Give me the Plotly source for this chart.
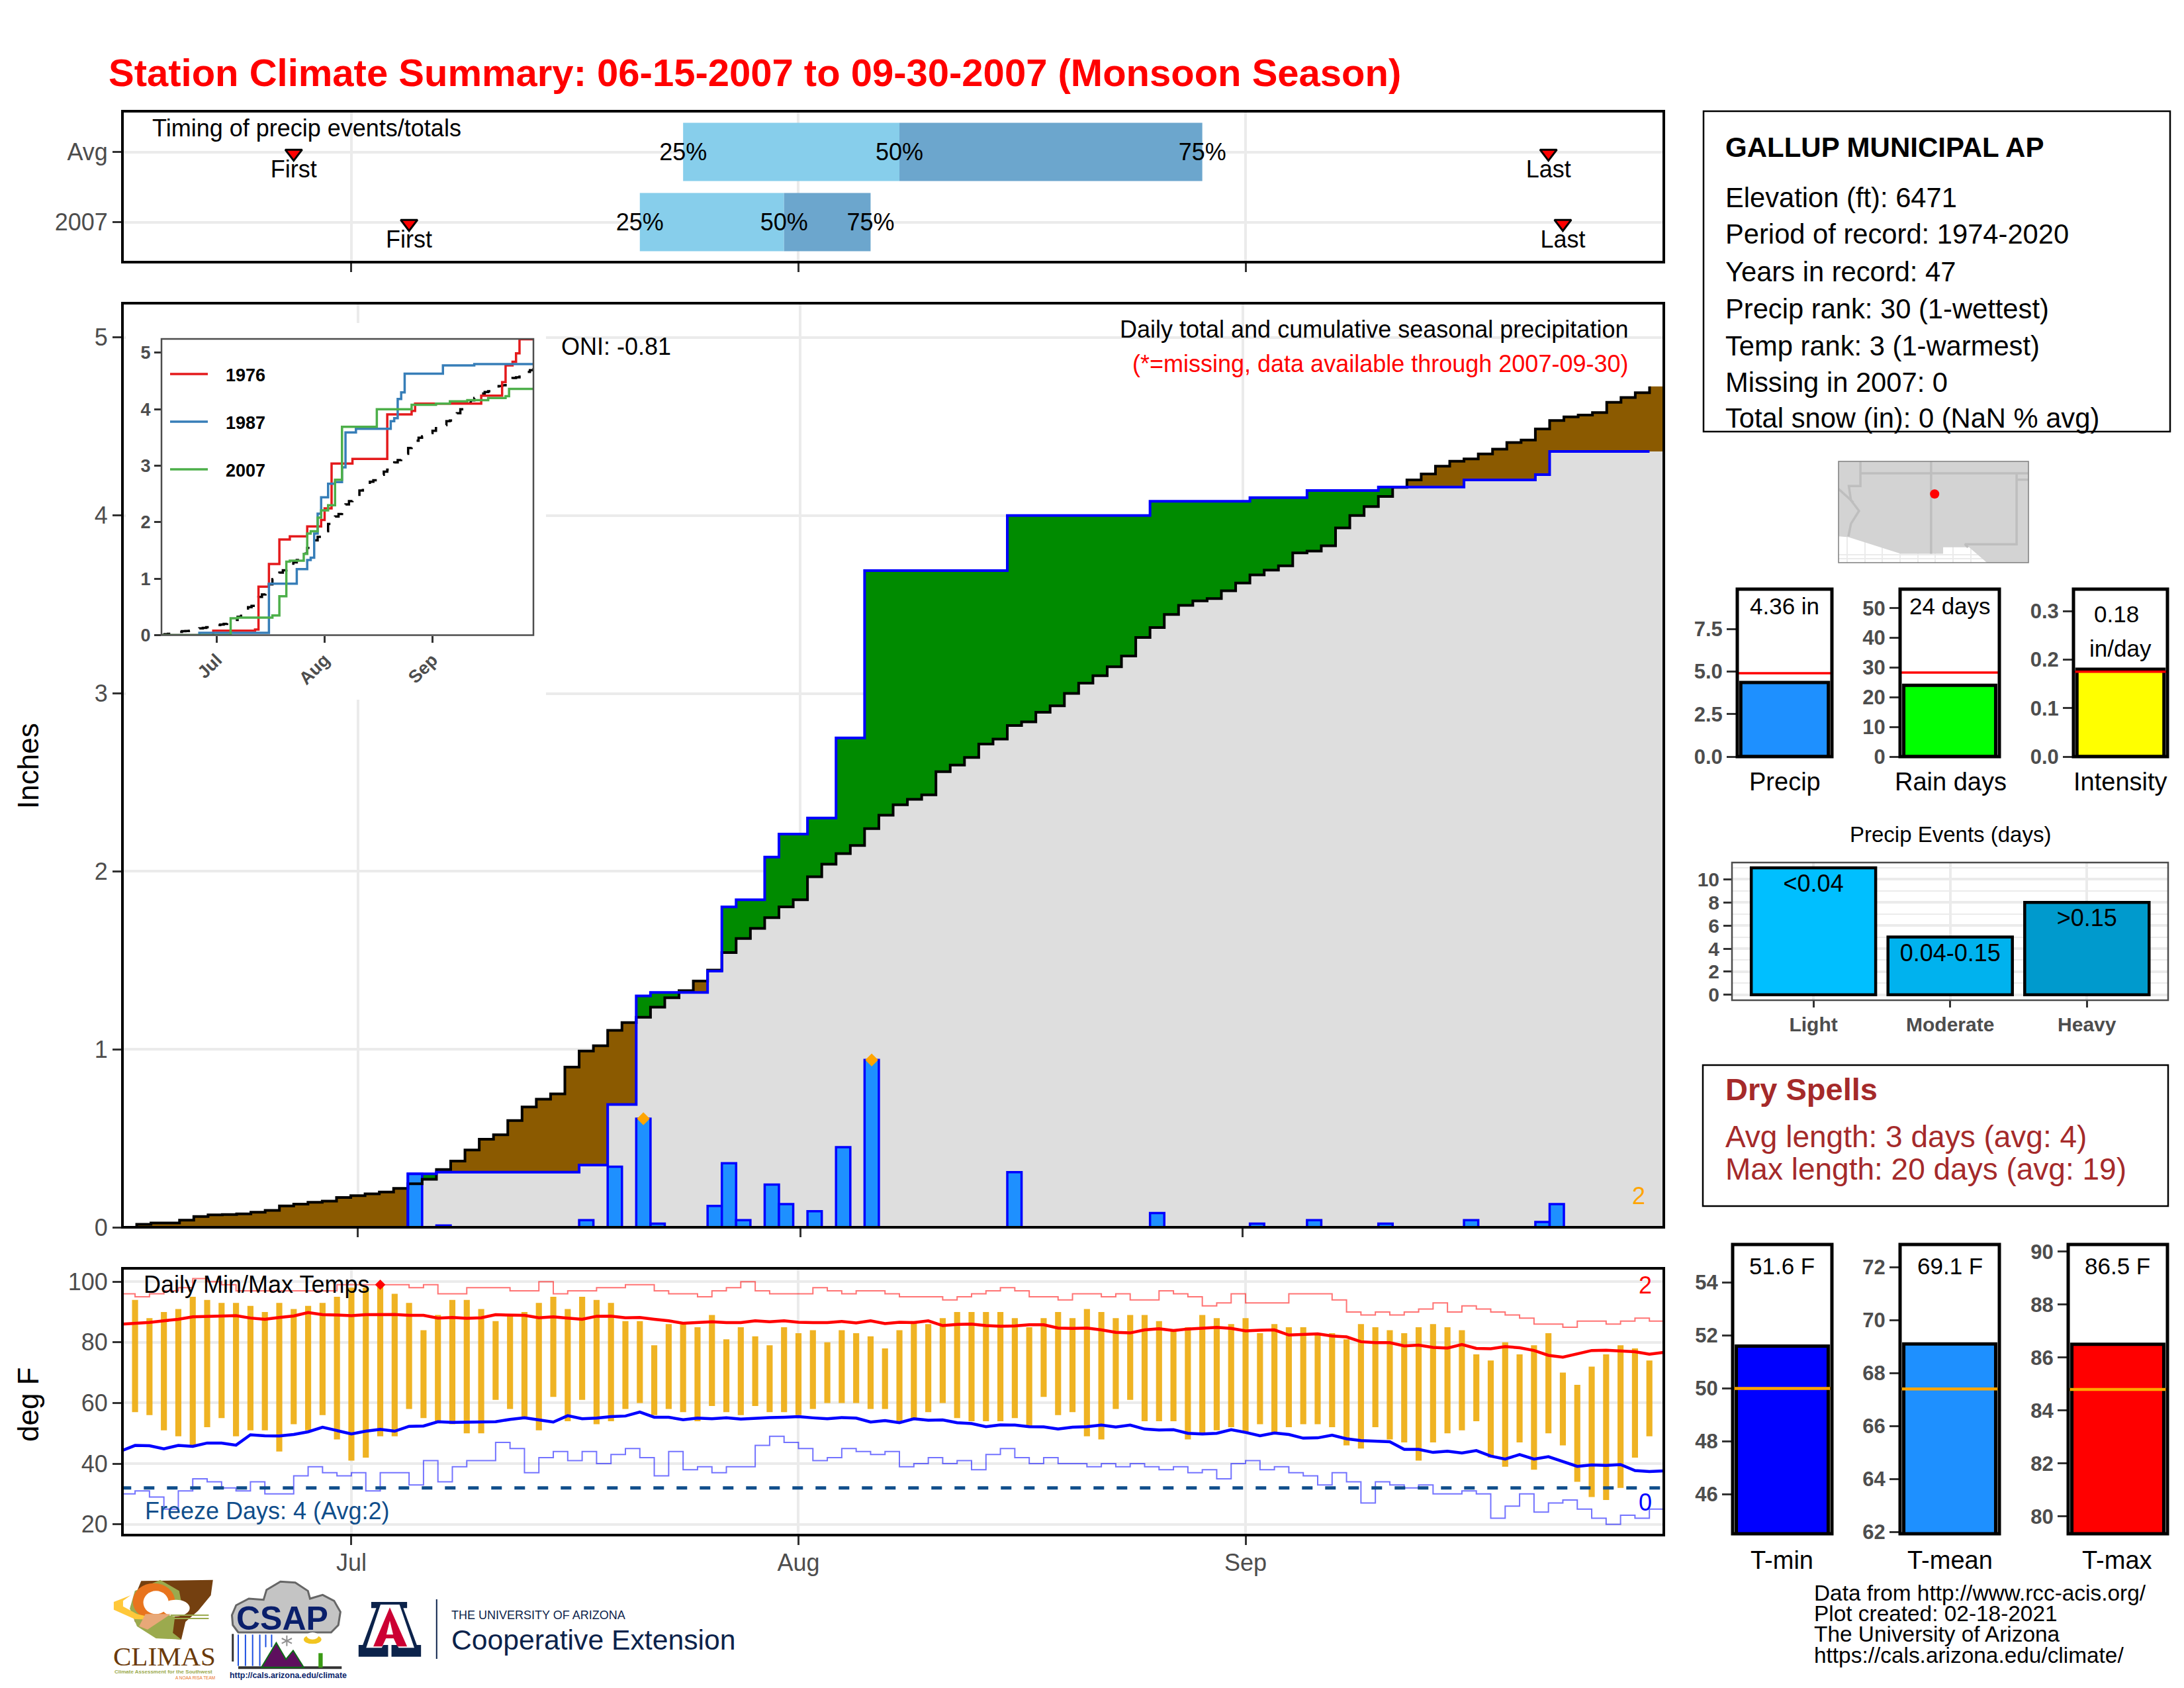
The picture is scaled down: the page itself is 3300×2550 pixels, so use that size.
import numpy as np
import pandas as pd
import plotly.graph_objects as go

W, H = 3300, 2550
FONT = "Liberation Sans"
GRAY = "#4D4D4D"
GRID = "#EBEBEB"

# ---------- data ----------
days = pd.date_range("2007-06-15", periods=108)
month_ticks = ["2007-07-01", "2007-08-01", "2007-09-01"]
month_labels = ["Jul", "Aug", "Sep"]

rain_day_index = [20, 22, 32, 34, 36, 37, 41, 42, 43, 45, 46, 48, 50, 52, 62, 72, 79, 83, 88, 94, 99, 100]
rain_inches = [.30, .01, .04, .34, .61, .02, .12, .36, .04, .24, .13, .09, .45, .94, .31, .08, .02, .04, .02, .04, .03, .13]
record_rain_index = [36, 52]

avg_cum = [0.0,.017,.024,.024,.04,.06,.07,.072,.075,.085,.095,.12,.13,.14,.147,.167,.178,.188,.198,.219,.245,.27,.325,.372,.434,.495,.52,.60,.676,.72,.75,.90,.99,1.02,1.107,1.15,1.18,1.237,1.29,1.33,1.384,1.445,1.544,1.623,1.68,1.74,1.80,1.84,1.97,2.04,2.10,2.145,2.24,2.316,2.374,2.405,2.43,2.56,2.597,2.64,2.716,2.743,2.82,2.84,2.894,2.93,3.0,3.058,3.10,3.15,3.21,3.314,3.37,3.444,3.495,3.52,3.533,3.577,3.62,3.666,3.693,3.717,3.79,3.80,3.83,3.93,4.0,4.05,4.107,4.158,4.2,4.233,4.277,4.305,4.318,4.346,4.373,4.41,4.424,4.486,4.534,4.554,4.564,4.578,4.636,4.663,4.69,4.725]

y1976_days = [0, 15, 27, 28, 31, 34, 37, 42, 46, 47, 49, 55, 65, 72, 73, 92, 98, 99, 101, 102, 103, 107]
y1976_vals = [0, .08, .10, .86, 1.26, 1.695, 1.75, 1.925, 2.04, 2.245, 3.04, 3.12, 3.91, 3.97, 4.10, 4.24, 4.48, 4.775, 4.84, 4.99, 5.24, 5.24]
y1987_days = [0, 11, 31, 39, 42, 43, 44, 45, 46, 48, 50, 52, 53, 56, 66, 67, 68, 69, 70, 81, 90, 107]
y1987_vals = [0, .04, .91, 1.17, 1.33, 1.37, 1.80, 2.15, 2.44, 2.68, 2.71, 2.97, 3.59, 3.655, 3.79, 3.84, 4.18, 4.30, 4.63, 4.775, 4.80, 4.80]

t_max = [94,88,90,91,95,94,93,93,92,90,93,91,92,93,95,98,98,99,96,93,84,89,94,94,91,87,89,90,93,95,91,95,94,93,87,87,79,86,86,85,89,81,85,82,79,85,83,84,80,84,83,82,78,84,87,86,88,90,90,90,90,88,85,88,90,88,91,90,88,89,89,87,84,85,89,88,86,88,83,86,85,85,83,83,81,86,85,84,83,85,86,85,84,76,74,80,76,79,83,70,66,72,76,79,78,74]
t_min = [57,56,51,49,46,52,55,49,51,51,44,53,51,56,48,41,42,49,49,58,55,54,53,50,50,61,58,55,51,62,54,61,53,54,58,60,56,58,57,54,59,57,56,59,57,57,56,58,60,60,60,58,58,54,55,57,60,55,54,54,54,55,52,62,56,57,49,48,58,61,54,54,54,48,50,51,52,50,53,50,52,53,53,52,46,45,52,48,47,41,47,50,51,54,42,39,47,38,50,46,34,29,28,32,42,49]
avg_tmax = [86.0,86.25,86.55,87.1,87.6,88.4,88.5,88.65,88.8,88.0,87.6,88.2,88.7,89.8,89.1,89.0,88.8,89.1,89.2,89.2,88.9,88.9,88.0,88.2,87.9,88.1,89.1,88.9,88.9,88.1,88.4,88.0,87.6,88.6,88.65,88.1,88.2,87.6,87.1,86.3,86.5,86.8,86.5,86.5,87.1,86.8,87.1,86.6,86.5,86.5,86.9,86.4,87.1,86.2,
            86.6,86.5,87.1,85.5,85.9,86.0,85.5,85.3,85.4,85.8,85.8,84.7,84.6,84.7,84.1,83.3,83.1,84.1,84.5,83.9,84.4,84.6,84.9,84.6,83.8,84.0,84.1,82.4,82.6,82.8,82.1,81.8,80.2,79.9,79.9,78.8,79.1,78.3,78.1,79.3,78.0,77.9,78.6,78.2,77.3,75.7,75.1,76.1,77.3,77.4,77.2,76.9,76.1,76.7]
avg_tmin = [44.1,46.0,45.9,44.9,46.0,45.7,46.8,46.8,46.1,49.5,49.2,49.1,49.6,50.5,52.0,50.9,49.8,50.7,51.3,50.7,52.3,52.4,53.8,53.6,53.7,53.8,53.8,54.6,55.1,54.4,53.7,55.8,54.8,55.0,55.5,55.7,57.0,55.3,55.3,54.5,55.0,54.8,55.1,54.7,55.0,55.2,55.3,55.5,55.1,54.8,55.2,55.0,53.7,54.2,
            53.5,54.8,54.3,54.4,53.5,53.2,52.2,52.8,52.7,52.2,52.1,51.4,52.0,52.2,52.7,52.1,52.7,51.4,51.1,51.2,50.0,49.8,50.0,51.2,50.3,49.2,50.1,49.6,48.4,48.5,49.4,48.2,47.6,47.3,47.2,44.7,44.7,43.7,44.1,43.5,44.3,42.5,41.5,43.0,41.5,42.3,40.6,39.1,39.6,39.4,39.7,37.7,37.4,37.6]
rec_high = [96,95,96,97,98,101,100,99,97,97,97,97,97,97,97,99,99,99,99,99,98,99,96,96,98,98,98,97,97,100,96,97,97,98,98,99,99,97,96,96,95,97,98,100,97,96,96,96,98,97,96,97,97,96,95,95,95,94,95,96,97,98,97,95,95,94,96,96,95,96,94,94,97,96,95,92,93,96,93,93,93,96,96,96,94,90,89,90,89,90,91,93,90,92,91,90,89,88,86,86,85,87,87,86,87,88,87,87]
rec_low = [30,31,29,25,31,35,34,32,31,34,30,30,36,39,37,36,37,31,37,37,33,41,34,39,41,41,47,45,37,42,44,41,44,40,43,45,42,36,44,38,39,37,39,39,46,49,47,45,41,42,45,44,43,44,39,40,42,40,41,38,43,45,42,40,42,40,40,39,40,39,40,39,38,39,37,38,35,40,41,38,39,37,36,33,37,34,27,34,33,32,33,30,30,31,30,22,26,30,24,27,28,25,22,20,23,22,25,25]
record_high_day = ["2007-07-03"]
record_high_val = [99]
freezing_f = 32

timing_rows = [2, 1]
timing_names = ["2007", "Avg"]
first_dates = ["2007-06-27", "2007-07-05"]
last_dates = ["2007-09-22", "2007-09-23"]
q25_dates = ["2007-07-24", "2007-07-21"]
q50_dates = ["2007-08-08", "2007-07-31"]
q75_dates = ["2007-08-29", "2007-08-06"]

precip_val, precip_avg = 4.36, 4.9
raindays_val, raindays_avg = 24, 28.3
intensity_val, intensity_avg = 0.18, 0.175
event_cats = ["Light", "Moderate", "Heavy"]
event_vals = [11, 5, 8]
event_bins = ["<0.04", "0.04-0.15", ">0.15"]
tmin_val, tmin_avg = 51.6, 50.0
tmean_val, tmean_avg = 69.1, 67.4
tmax_val, tmax_avg = 86.5, 84.8

land_lon = [-115.6,-114.88,-111.2,-108.2,-108.2,-106.36,-105.1,-102.16,-102.16,-115.6]
land_lat = [32.55,32.5,31.33,31.33,31.78,31.78,30.7,30.7,37.84,37.84]
border_lon = [[-114.05,-102.16],[-109.05,-109.05],[-114.05,-114.05,-114.87,-114.72,-114.15,-114.72,-114.9],[-115.6,-114.55],[-103.0,-103.0,-106.66,-106.44],[-103.0,-102.16]]
border_lat = [[37,37],[37.84,31.33],[37.84,36.1,36.1,35.1,34.35,33.45,32.55],[35.9,34.95],[37,32.0,32.0,31.78],[36.55,36.55]]
map_grid_lon = [-115, -113.75, -112.5, -111.25, -110, -108.75, -107.5, -106.25, -105, -103.75]
map_grid_lat = [31.0, 31.25]
station_lon, station_lat = [-108.8], [35.54]

# ---------- helpers ----------
assert len(avg_cum) == 108 and len(avg_tmax) == 108 and len(avg_tmin) == 108
assert len(rec_high) == 108 and len(rec_low) == 108 and len(t_max) == 106 and len(t_min) == 106

layout = dict(width=W, height=H, margin=dict(l=0, r=0, t=0, b=0, pad=0, autoexpand=False), autosize=False,
              paper_bgcolor="white", plot_bgcolor="white", showlegend=False, barmode="overlay",
              font=dict(family=FONT, color="black"))
shapes, notes = [], []
traces = []

def xf(px): return px / W
def yf(py): return 1 - py / H

def box(x0, y0, x1, y1, line="black", width=2.5, fill="rgba(0,0,0,0)"):
    shapes.append(dict(type="rect", xref="paper", yref="paper", x0=xf(x0), x1=xf(x1), y0=yf(y1), y1=yf(y0),
                       line=dict(color=line, width=width), fillcolor=fill, layer="above"))

def panel(n, x0, x1, y0, y1, xr, yr, xticks=None, xlabels=None, yticks=None, ylabels=None,
          line=4, linecolor="black", tick=36, bold=False, xgrid=True, ygrid=True, tickangle=None,
          minor_y=False, xlen=14, ylen=14, xdate=False):
    sx = "" if n == 1 else str(n)
    tf = dict(family=FONT, size=tick, color=GRAY)
    if bold: tf["weight"] = "bold"
    layout["xaxis" + sx] = dict(domain=[xf(x0), xf(x1)], range=xr, anchor="y" + sx, showline=False,
        ticks="outside" if xticks else "", ticklen=xlen, tickwidth=3, tickcolor="#333333",
        tickmode="array", tickvals=xticks or [], ticktext=xlabels or [""] * len(xticks or []), showgrid=xgrid,
        gridcolor=GRID, gridwidth=3.5, zeroline=False, tickfont=tf, tickangle=tickangle, type="date" if xdate else "linear")
    ya = dict(domain=[yf(y1), yf(y0)], range=yr, anchor="x" + sx, showline=False,
        ticks="outside" if yticks else "", ticklen=ylen, tickwidth=3, tickcolor="#333333",
        tickmode="array", tickvals=yticks or [], ticktext=ylabels or [str(v) for v in (yticks or [])], showgrid=ygrid,
        gridcolor=GRID, gridwidth=3.5, zeroline=False, tickfont=tf)
    if minor_y:
        ya["minor"] = dict(tickmode="array", tickvals=[1, 3, 5, 7, 9, 11], showgrid=True, gridcolor=GRID, gridwidth=1.8, ticks="")
    layout["yaxis" + sx] = ya
    box(x0, y0, x1, y1, linecolor, line)
    return "x" + sx, "y" + sx

def note(px, py, text, size=36, color="black", anchor="left", bold=False, angle=0, family=FONT, valign="middle"):
    f = dict(family=family, size=size, color=color)
    if bold: f["weight"] = "bold"
    notes.append(dict(x=xf(px), y=yf(py), xref="paper", yref="paper", text=text, showarrow=False, xanchor=anchor,
                      yanchor=valign, font=f, textangle=angle, borderpad=0, borderwidth=0))

def poly(pts, fill, line=None, width=0):
    p = "M " + " L ".join(f"{xf(a):.5f} {yf(b):.5f}" for a, b in pts) + " Z"
    shapes.append(dict(type="path", xref="paper", yref="paper", path=p, fillcolor=fill,
                       line=dict(color=line or fill, width=width), layer="above"))

def oval(x0, y0, x1, y1, fill):
    shapes.append(dict(type="circle", xref="paper", yref="paper", x0=xf(x0), x1=xf(x1), y0=yf(y1), y1=yf(y0),
                       fillcolor=fill, line=dict(width=0), layer="above"))

def seg(x0, y0, x1, y1, color, width):
    shapes.append(dict(type="line", xref="paper", yref="paper", x0=xf(x0), x1=xf(x1), y0=yf(y0), y1=yf(y1),
                       line=dict(color=color, width=width), layer="above"))

half_day = pd.Timedelta(hours=12)
day_ms = 86400000
RANGE_A = ["2007-06-14 12:00", "2007-09-30 12:00"]
RANGE_B = ["2007-06-15 03:00", "2007-09-30 00:00"]
LEFT, RIGHT = 185, 2514
ms = lambda a, b: (pd.Timestamp(b) - pd.Timestamp(a)).total_seconds() * 1000

# ---------- timing panel ----------
xa, ya = panel(1, LEFT, RIGHT, 168, 396, RANGE_B, [0.43, 2.58], month_ticks, None, [1, 2], timing_names, line=4, xdate=True)
for i, r in enumerate(timing_rows):
    traces.append(go.Bar(x=[ms(q25_dates[i], q50_dates[i])], y=[r], base=[q25_dates[i]], orientation="h", width=0.83,
                         marker=dict(color="#87CEEB", line=dict(width=0)), xaxis=xa, yaxis=ya))
    traces.append(go.Bar(x=[ms(q50_dates[i], q75_dates[i])], y=[r], base=[q50_dates[i]], orientation="h", width=0.83,
                         marker=dict(color="#6CA6CD", line=dict(width=0)), xaxis=xa, yaxis=ya))
traces.append(go.Scatter(x=first_dates + last_dates, y=[r - 0.02 for r in timing_rows] * 2, mode="markers", xaxis=xa, yaxis=ya,
                         marker=dict(symbol="triangle-down", size=22, color="red", line=dict(color="black", width=3))))
for dates, label in ((first_dates, "First"), (last_dates, "Last")):
    traces.append(go.Scatter(x=dates, y=[r - 0.28 for r in timing_rows], mode="text", text=[label] * 2, xaxis=xa, yaxis=ya,
                             textfont=dict(family=FONT, size=36, color="black"), textposition="middle center"))
for dates, label in ((q25_dates, "25%"), (q50_dates, "50%"), (q75_dates, "75%")):
    traces.append(go.Scatter(x=dates, y=[r - 0.03 for r in timing_rows], mode="text", text=[label] * 2, xaxis=xa, yaxis=ya,
                             textfont=dict(family=FONT, size=36, color="black"), textposition="middle center"))
note(230, 194, "Timing of precip events/totals", 36)

# ---------- main precip panel ----------
xa, ya = panel(2, LEFT, RIGHT, 458, 1854, RANGE_A, [0, 5.193], month_ticks, None, [0, 1, 2, 3, 4, 5], None, line=4, xdate=True)
daily = np.zeros(108)
for i, v in zip(rain_day_index, rain_inches):
    daily[i] = v
cum = np.cumsum(daily)
avg = np.array(avg_cum)
edges = days - half_day
edges_full = list(edges) + [days[-1] + half_day]
ext = lambda a: list(a) + [a[-1]]
for vals, col in ((avg, "#8B5A00"), (cum, "#008B00"), (np.minimum(avg, cum), "#DEDEDE")):
    traces.append(go.Scatter(x=edges_full, y=ext(vals), mode="lines", line=dict(shape="hv", width=0, color=col),
                             fill="tozeroy", fillcolor=col, xaxis=xa, yaxis=ya))
# blanks the grid behind the inset (above the grid, below the marks)
rng0 = pd.Timestamp(RANGE_A[0])
px_to_date = lambda p: rng0 + pd.Timedelta(days=(p - LEFT) / ((RIGHT - LEFT) / 108))
shapes.append(dict(type="rect", xref="x2", yref="y2", x0=str(px_to_date(190)), x1=str(px_to_date(825)),
                   y0=(1854 - 1057) / 268.8, y1=(1854 - 488) / 268.8, fillcolor="white", line=dict(width=0), layer="between"))
# overlay axes so that the bars and step lines sit over the fills
layout["xaxis13"] = dict(overlaying="x2", range=RANGE_A, type="date", visible=False, anchor="y13",
                         domain=layout["xaxis2"]["domain"])
layout["yaxis13"] = dict(overlaying="y2", range=[0, 5.193], visible=False, anchor="x13", domain=layout["yaxis2"]["domain"])
traces.append(go.Bar(x=days[rain_day_index], y=rain_inches, width=day_ms, xaxis="x13", yaxis="y13",
                     marker=dict(color="#1E90FF", line=dict(color="#0000FF", width=3.5))))
traces.append(go.Scatter(x=edges, y=avg, mode="lines", line=dict(shape="hv", width=4, color="black"), xaxis="x13", yaxis="y13"))
traces.append(go.Scatter(x=edges, y=cum, mode="lines", line=dict(shape="hv", width=4, color="#0000FF"), xaxis="x13", yaxis="y13"))
traces.append(go.Scatter(x=days[record_rain_index], y=daily[record_rain_index], mode="markers", xaxis="x13", yaxis="y13",
                         marker=dict(symbol="diamond", size=15, color="orange", line=dict(width=0))))
note(848, 523, "ONI: -0.81", 36)
note(2460, 497, "Daily total and cumulative seasonal precipitation", 36, anchor="right")
note(2460, 549, "(*=missing, data available through 2007-09-30)", 36, color="red", anchor="right")
note(2476, 1806, "2", 36, color="orange", anchor="center")
note(42, 1157, "Inches", 44, angle=-90, anchor="center")

# ---------- temperature panel ----------
xa, ya = panel(3, LEFT, RIGHT, 1916, 2319, RANGE_B, [16.44, 104.4], month_ticks, month_labels, [20, 40, 60, 80, 100], None, line=4, xdate=True)
layout["xaxis3"]["ticklabelstandoff"] = -4
t_hi, t_lo = np.array(t_max), np.array(t_min)
traces.append(go.Bar(x=days[1:107], y=t_hi - t_lo, base=t_lo, width=0.42 * day_ms, xaxis=xa, yaxis=ya,
                     marker=dict(color="rgba(238,172,16,0.92)", line=dict(width=0))))
traces.append(go.Scatter(x=days, y=rec_high, mode="lines", line=dict(shape="hv", width=2, color="rgba(255,0,0,0.55)"), xaxis=xa, yaxis=ya))
traces.append(go.Scatter(x=days, y=rec_low, mode="lines", line=dict(shape="hv", width=2, color="rgba(0,0,255,0.55)"), xaxis=xa, yaxis=ya))
traces.append(go.Scatter(x=days, y=avg_tmax, mode="lines", line=dict(width=4.5, color="#FF0000"), xaxis=xa, yaxis=ya))
traces.append(go.Scatter(x=days, y=avg_tmin, mode="lines", line=dict(width=4.5, color="#0000FF"), xaxis=xa, yaxis=ya))
traces.append(go.Scatter(x=[days[0], days[-1]], y=[freezing_f, freezing_f], mode="lines", xaxis=xa, yaxis=ya,
                         line=dict(width=5, color="#104E8B", dash="16px,19px")))
traces.append(go.Scatter(x=record_high_day, y=record_high_val, mode="markers", xaxis=xa, yaxis=ya,
                         marker=dict(symbol="diamond", size=12, color="red", line=dict(width=0))))
note(217, 1940, "Daily Min/Max Temps", 36)
note(219, 2282, "Freeze Days: 4 (Avg:2)", 36, color="#104E8B")
note(2486, 1941, "2", 36, color="red", anchor="center")
note(2486, 2269, "0", 36, color="#0000FF", anchor="center")
note(42, 2122, "deg F", 44, angle=-90, anchor="center")

# ---------- inset ----------
xa, ya = panel(4, 244, 806, 512, 959.5, RANGE_B, [0, 5.245], month_ticks, month_labels, [0, 1, 2, 3, 4, 5], None,
               line=2.5, linecolor="#4D4D4D", tick=27, bold=True, xgrid=False, ygrid=False, tickangle=-45, xlen=10, ylen=10, xdate=True)
traces.append(go.Scatter(x=days, y=avg, mode="lines", line=dict(shape="hv", width=3.5, color="black", dash="16px,18px"), xaxis=xa, yaxis=ya))
for dd, vv, col in ((y1976_days, y1976_vals, "#E41A1C"), (y1987_days, y1987_vals, "#377EB8")):
    traces.append(go.Scatter(x=days[dd], y=vv, mode="lines", line=dict(shape="hv", width=3.5, color=col), xaxis=xa, yaxis=ya))
traces.append(go.Scatter(x=days, y=cum, mode="lines", line=dict(shape="hv", width=3.5, color="#4DAF4A"), xaxis=xa, yaxis=ya))
for py, label, col in ((565, "1976", "#E41A1C"), (637, "1987", "#377EB8"), (709, "2007", "#4DAF4A")):
    seg(257, py, 314, py, col, 3.5)
    note(341, py + 2, label, 27, bold=True)

# ---------- summary box ----------
box(2574, 168, 3279, 652, width=2.5)
note(2607, 223, "GALLUP MUNICIPAL AP", 42, bold=True)
for py, line in zip((299, 354, 411, 466, 522, 577, 632),
                    ("Elevation (ft): 6471", "Period of record: 1974-2020", "Years in record: 47",
                     "Precip rank: 30 (1-wettest)", "Temp rank: 3 (1-warmest)", "Missing in 2007: 0",
                     "Total snow (in): 0 (NaN % avg)")):
    note(2607, py, line, 41.7)

# ---------- map ----------
xa, ya = panel(5, 2778, 3065, 697, 850, [-115.6, -102.16], [30.7, 37.84], None, None, None, None,
               line=1.5, linecolor="#7F7F7F", xgrid=True, ygrid=True)
layout["xaxis5"].update(tickvals=map_grid_lon, ticktext=[""] * len(map_grid_lon), gridwidth=1.5, ticks="")
layout["yaxis5"].update(tickvals=map_grid_lat, ticktext=[""] * len(map_grid_lat), gridwidth=1.5, ticks="")
traces.append(go.Scatter(x=land_lon, y=land_lat, mode="lines", fill="toself", fillcolor="#D3D3D3", line=dict(width=0), xaxis=xa, yaxis=ya))
for lo, la in zip(border_lon, border_lat):
    traces.append(go.Scatter(x=lo, y=la, mode="lines", line=dict(color="#BEBEBE", width=3.5), xaxis=xa, yaxis=ya))
traces.append(go.Scatter(x=station_lon, y=station_lat, mode="markers", marker=dict(color="red", size=14, line=dict(width=0)), xaxis=xa, yaxis=ya))

# ---------- small bars ----------
def mini(n, x0, x1, y0, y1, yr, yticks, ylabels, val, ref, col, refcol, refw=3.5):
    xa, ya = panel(n, x0, x1, y0, y1, [-0.54, 0.54], yr, None, None, yticks, ylabels, line=5, tick=31, bold=True,
                   xgrid=False, ygrid=False, ylen=15)
    traces.append(go.Bar(x=[0], y=[val], width=1, xaxis=xa, yaxis=ya, marker=dict(color=col, line=dict(color="black", width=5))))
    traces.append(go.Scatter(x=[-0.54, 0.54], y=[ref, ref], mode="lines", line=dict(color=refcol, width=refw), xaxis=xa, yaxis=ya))

mini(6, 2625, 2768, 890, 1143, [0, 9.84], [0, 2.5, 5, 7.5], ["0.0", "2.5", "5.0", "7.5"], precip_val, precip_avg, "#1E90FF", "red")
mini(7, 2871, 3021, 890, 1143, [0, 56.4], [0, 10, 20, 30, 40, 50], None, raindays_val, raindays_avg, "#00FF00", "red")
mini(8, 3133, 3275, 890, 1143, [0, 0.345], [0, 0.1, 0.2, 0.3], ["0.0", "0.1", "0.2", "0.3"], intensity_val, intensity_avg, "#FFFF00", "red")
note(2696, 915, "4.36 in", 35, anchor="center")
note(2946, 915, "24 days", 35, anchor="center")
note(3198, 927, "0.18", 35, anchor="center")
note(3204, 980, "in/day", 35, anchor="center")
note(2697, 1181, "Precip", 38, anchor="center")
note(2947, 1181, "Rain days", 38, anchor="center")
note(3204, 1181, "Intensity", 38, anchor="center")

# ---------- precip events ----------
xa, ya = panel(9, 2617, 3276, 1303, 1511, [-0.596, 2.594], [-0.476, 11.46], [0, 1, 2], event_cats, [0, 2, 4, 6, 8, 10], None,
               line=2.5, linecolor="#4D4D4D", tick=30, bold=True, minor_y=True, xlen=10, ylen=12)
traces.append(go.Bar(x=[0, 1, 2], y=event_vals, width=0.91, xaxis=xa, yaxis=ya,
                     marker=dict(color=["#00BFFF", "#00B2EE", "#009ACD"], line=dict(color="black", width=4.5))))
traces.append(go.Scatter(x=[0, 1, 2], y=[v - 1.55 for v in event_vals], mode="text", text=event_bins, xaxis=xa, yaxis=ya,
                         textfont=dict(family=FONT, size=36, color="black"), textposition="middle center"))
note(2947, 1260, "Precip Events (days)", 33, anchor="center")

# ---------- dry spells ----------
box(2573, 1609, 3276, 1822, width=2.5)
note(2607, 1645, "Dry Spells", 47, color="#A52A2A", bold=True)
note(2607, 1717, "Avg length: 3 days (avg: 4)", 46, color="#A52A2A")
note(2607, 1766, "Max length: 20 days (avg: 19)", 46, color="#A52A2A")

# ---------- temperature bars ----------
mini(10, 2618, 2768, 1880, 2317, [44.51, 55.44], [46, 48, 50, 52, 54], None, tmin_val, tmin_avg, "#0000FF", "orange", 4.5)
mini(11, 2871, 3021, 1880, 2317, [61.93, 72.86], [62, 64, 66, 68, 70, 72], None, tmean_val, tmean_avg, "#1E90FF", "orange", 4.5)
mini(12, 3125, 3275, 1880, 2317, [79.35, 90.27], [80, 82, 84, 86, 88, 90], None, tmax_val, tmax_avg, "#FF0000", "orange", 4.5)
note(2692, 1912, "51.6 F", 35, anchor="center")
note(2946, 1912, "69.1 F", 35, anchor="center")
note(3199, 1912, "86.5 F", 35, anchor="center")
note(2692, 2357, "T-min", 38, anchor="center")
note(2946, 2357, "T-mean", 38, anchor="center")
note(3199, 2357, "T-max", 38, anchor="center")

# ---------- footer ----------
for py, line in zip((2406, 2437, 2468, 2500), ("Data from http://www.rcc-acis.org/", "Plot created: 02-18-2021",
                                               "The University of Arizona", "https://cals.arizona.edu/climate/")):
    note(2741, py, line, 33.4)

# ---------- logos (drawn approximations) ----------
L = lambda a, b: (140 + a / 1.568, 2360 + b / 3)
NAVY = "#0C234B"
poly([L(*p) for p in [(115,85),(285,80),(280,150),(250,220),(220,270),(210,350),(150,340),(100,270),(90,200)]], "#744010")
poly([L(*p) for p in [(160,80),(205,130),(212,200),(195,245),(190,320),(210,350),(150,345),(105,290),(88,210),(100,130)]], "#9BAA4E")
oval(*L(95,95), *L(195,260), "#E8741E")
oval(*L(120,130), *L(180,235), "white")
oval(*L(165,170), *L(230,245), "white")
poly([L(*p) for p in [(90,150),(50,180),(50,215),(100,258),(165,262),(105,235),(72,200),(72,175)]], "#FFC83A")
poly([L(*p) for p in [(125,235),(185,235),(130,305),(110,290)]], "#E8A878")
seg(*L(185,240), *L(275,240), "#9BAA4E", 2)
seg(*L(185,255), *L(275,255), "#9BAA4E", 2)
note(*L(170,425), "CLIMAS", 41, color="#6B3A0A", anchor="center", family="Liberation Serif")
note(*L(168,495), "Climate Assessment for the Southwest", 8, color="#9BAA4E", anchor="center", bold=True)
note(*L(243,522), "A NOAA RISA TEAM", 6.5, color="#E8741E", anchor="center")

poly([L(*p) for p in [(345,318),(332,285),(330,240),(340,195),(370,165),(405,170),(412,125),(445,88),(480,92),(510,130),(515,165),(545,148),(572,175),(587,225),(582,285),(565,318)]], "#C4C4C4", "#666666", 3)
note(*L(450,255), "CSAP", 50, color="#0A1F6B", anchor="center", bold=True)
for a in (345, 362, 379, 396, 410, 424):
    seg(*L(a,328), *L(a,(470 if a < 400 else 385)), "#1C4FE0", 2)
seg(*L(332,325), *L(332,450), "#333333", 3)
seg(*L(345,478), *L(590,478), "#333333", 4)
poly([L(*p) for p in [(400,476),(435,365),(458,440),(475,400),(500,476)]], "#5E0F5E", "#0E6B16", 2)
seg(*L(460,332), *L(460,380), "#8F8F8F", 2)
seg(*L(448,345), *L(472,368), "#8F8F8F", 2)
seg(*L(448,368), *L(472,345), "#8F8F8F", 2)
oval(*L(500,330), *L(542,370), "#F2C521")
oval(*L(507,318), *L(535,350), "white")
poly([L(*p) for p in [(535,412),(545,412),(545,478),(535,478)]], "#3A9A14")
note(*L(464,513), "http://cals.arizona.edu/climate", 12.4, color="#0A1F6B", anchor="center", bold=True)

poly([L(*p) for p in [(660,180),(745,180),(745,208),(736,208),(768,375),(778,375),(778,428),(700,428),(700,375),(680,375),(688,345),(722,345),(730,375),(708,375),(708,428),(630,428),(630,375),(640,375),(672,208),(660,208)]], NAVY)
poly([L(*p) for p in [(682,192),(727,192),(762,388),(725,388),(716,358),(693,358),(685,388),(648,388)]], "white")
poly([L(*p) for p in [(704,205),(745,382),(722,382),(713,345),(695,345),(686,382),(665,382)]], "#CC0033")
poly([L(*p) for p in [(704,265),(712,328),(696,328)]], "white")
seg(*L(815,168), *L(815,438), NAVY, 2)
note(*L(850,240), "THE UNIVERSITY OF ARIZONA", 18, color=NAVY)
note(*L(850,350), "Cooperative Extension", 42.7, color=NAVY)

# ---------- title ----------
note(164, 110, "Station Climate Summary: 06-15-2007 to 09-30-2007 (Monsoon Season)", 58, color="red", bold=True)

layout["shapes"] = shapes
layout["annotations"] = notes
fig = go.Figure(data=traces, layout=layout)
fig.update_traces(hoverinfo="skip")
fig.write_html("out.html", config={"displayModeBar": False}, post_script="document.body.style.margin='0';")
